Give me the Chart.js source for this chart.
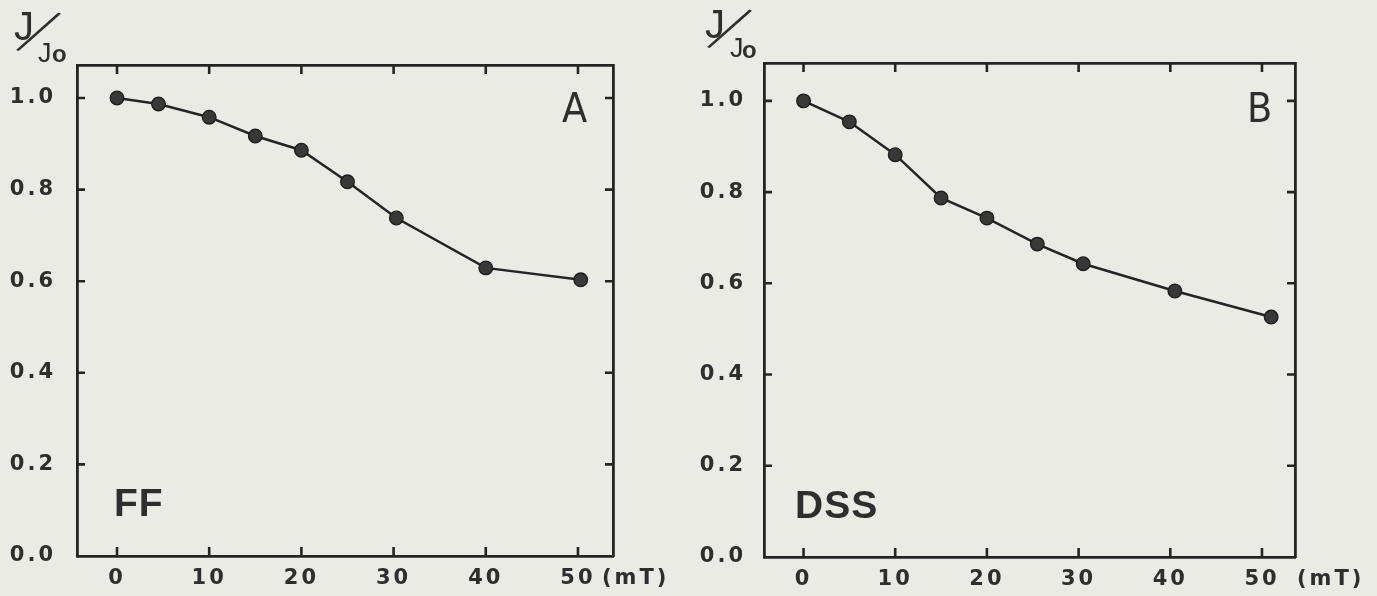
<!DOCTYPE html>
<html><head><meta charset="utf-8">
<script src="https://cdn.jsdelivr.net/npm/chart.js@4.4.1/dist/chart.umd.min.js"></script>
<style>
html,body{margin:0;padding:0;background:#ebebe6;width:1377px;height:596px;overflow:hidden;}
canvas{position:absolute;top:0;}
#cA{left:0;} #cB{left:688px;}
</style></head><body>
<canvas id="cA" width="688" height="596"></canvas>
<canvas id="cB" width="689" height="596"></canvas>
<script>
// ---- data ----
const fieldFF = [0, 4.5, 10, 15, 20, 25, 30.3, 40, 50.3];
const ratioFF = [1.000, 0.987, 0.958, 0.917, 0.886, 0.817, 0.738, 0.629, 0.603];
const fieldDSS = [0, 5, 10, 15, 20, 25.5, 30.5, 40.5, 51];
const ratioDSS = [1.000, 0.954, 0.882, 0.787, 0.743, 0.686, 0.643, 0.583, 0.526];
const xTicks = [0, 10, 20, 30, 40, 50];
const yTicks = [0.0, 0.2, 0.4, 0.6, 0.8, 1.0];
const panelLetters = ['A', 'B'];
const sampleLabels = ['FF', 'DSS'];
const xUnitLabel = '(mT)';
const yLabelParts = ['J', '/', 'J', 'o'];

// ---- styling ----
const INK = '#242424';
const TXT = '#2e2e2e';
const NUM_FAMILY = '"DejaVu Sans", sans-serif';
const NUM_SIZE = 21;
const NUM_SPACING = '3px';
const LINE_H = NUM_SIZE * 1.2;

const panels = [
  {canvas:'cA', field:fieldFF, ratio:ratioFF, xMin:-4.34, xMax:53.8, yMax:1.072,
   leftW:77, rightW:75, topH:65, bottomH:40, yPad:21, xPad:10, unitDx:24,
   letter:panelLetters[0], letterDx:-51, letterDy:57,
   sample:sampleLabels[0], sampleDx:37, sampleDy:-40,
   jl:{jx:14, jy:40, sx:38, sy:33, jx2:38, jy2:62, ox:52, oy:62}},
  {canvas:'cB', field:fieldDSS, ratio:ratioDSS, xMin:-4.31, xMax:53.6, yMax:1.083,
   leftW:76, rightW:82, topH:63, bottomH:39, yPad:18, xPad:10, unitDx:35,
   letter:panelLetters[1], letterDx:-48, letterDy:59,
   sample:sampleLabels[1], sampleDx:31, sampleDy:-39,
   jl:{jx:17, jy:38, sx:41, sy:30, jx2:42, jy2:57, ox:54, oy:58}}
];

function setTicks(vals){ return s => { s.ticks = vals.map(v => ({value: v})); }; }

function decor(p){
  return {
    id: 'decor',
    beforeDraw(chart){ chart.ctx.letterSpacing = NUM_SPACING; },
    afterDraw(chart){
      const ctx = chart.ctx, a = chart.chartArea;
      const sx = chart.scales.x, sy = chart.scales.y;
      ctx.save();
      // inward tick marks on all four sides
      ctx.strokeStyle = INK; ctx.lineWidth = 2.6;
      ctx.beginPath();
      xTicks.forEach(v => {
        const px = sx.getPixelForValue(v);
        ctx.moveTo(px, a.bottom); ctx.lineTo(px, a.bottom - 9);
        ctx.moveTo(px, a.top); ctx.lineTo(px, a.top + 9);
      });
      yTicks.forEach(v => {
        if (v === 0) return;
        const py = sy.getPixelForValue(v);
        ctx.moveTo(a.left, py); ctx.lineTo(a.left + 8, py);
        ctx.moveTo(a.right, py); ctx.lineTo(a.right - 8, py);
      });
      ctx.stroke();

      ctx.fillStyle = TXT;
      // unit after the last x tick label
      ctx.letterSpacing = NUM_SPACING;
      ctx.font = 'bold ' + NUM_SIZE + 'px ' + NUM_FAMILY;
      ctx.textAlign = 'left'; ctx.textBaseline = 'middle';
      ctx.fillText(xUnitLabel, sx.getPixelForValue(xTicks[xTicks.length-1]) + p.unitDx, a.bottom + p.xPad + LINE_H/2);

      // panel letter
      ctx.letterSpacing = '0px';
      ctx.textBaseline = 'alphabetic';
      ctx.font = '41px "Liberation Sans Narrow", "DejaVu Sans Condensed", sans-serif';
      ctx.fillText(p.letter, a.right + p.letterDx, a.top + p.letterDy);

      // sample name
      ctx.letterSpacing = '1px';
      ctx.font = 'bold 39px "Liberation Sans", sans-serif';
      ctx.fillText(p.sample, a.left + p.sampleDx, a.bottom + p.sampleDy);

      // y label J/Jo
      const j = p.jl;
      ctx.letterSpacing = '0px';
      ctx.font = '40px "Liberation Sans", sans-serif';
      ctx.fillText(yLabelParts[0], j.jx, j.jy);
      ctx.save();
      ctx.translate(j.sx, j.sy);
      ctx.rotate(26 * Math.PI / 180);
      ctx.font = '300 68px Lato, "Liberation Sans", sans-serif';
      ctx.textAlign = 'center'; ctx.textBaseline = 'middle';
      ctx.fillText(yLabelParts[1], 0, 0);
      ctx.restore();
      ctx.font = '27px "Liberation Sans", sans-serif';
      ctx.fillText(yLabelParts[2], j.jx2, j.jy2);
      ctx.font = 'bold 24px "Liberation Sans", sans-serif';
      ctx.fillText(yLabelParts[3], j.ox, j.oy);
      ctx.restore();
    }
  };
}

panels.forEach(p => {
  const numFont = {family: NUM_FAMILY, size: NUM_SIZE, weight: 'bold'};
  const border = {display: true, color: INK, width: 2.8};
  new Chart(document.getElementById(p.canvas), {
    type: 'line',
    data: {
      datasets: [{
        data: p.field.map((x, i) => ({x: x, y: p.ratio[i]})),
        borderColor: INK, borderWidth: 2.5, tension: 0,
        pointRadius: 6.8, pointBackgroundColor: '#383838',
        pointBorderColor: '#1c1c1c', pointBorderWidth: 1.3,
        clip: false
      }]
    },
    options: {
      responsive: false, animation: false, events: [],
      layout: {padding: 0},
      plugins: {legend: {display: false}, tooltip: {enabled: false}},
      scales: {
        x: {type: 'linear', position: 'bottom', min: p.xMin, max: p.xMax,
            afterBuildTicks: setTicks(xTicks),
            afterFit: s => { s.height = p.bottomH; },
            grid: {display: false, drawTicks: false}, border: border,
            ticks: {font: numFont, color: TXT, padding: p.xPad, maxRotation: 0, autoSkip: false,
                    callback: v => String(v)}},
        x2: {type: 'linear', position: 'top', min: p.xMin, max: p.xMax,
            afterBuildTicks: setTicks(xTicks),
            afterFit: s => { s.height = p.topH; },
            grid: {display: false, drawTicks: false}, border: border,
            ticks: {display: false}},
        y: {type: 'linear', position: 'left', min: 0, max: p.yMax,
            afterBuildTicks: setTicks(yTicks),
            afterFit: s => { s.width = p.leftW; },
            grid: {display: false, drawTicks: false}, border: border,
            ticks: {font: numFont, color: TXT, padding: p.yPad, autoSkip: false,
                    callback: v => Number(v).toFixed(1)}},
        y2: {type: 'linear', position: 'right', min: 0, max: p.yMax,
            afterBuildTicks: setTicks(yTicks),
            afterFit: s => { s.width = p.rightW; },
            grid: {display: false, drawTicks: false}, border: border,
            ticks: {display: false}}
      }
    },
    plugins: [decor(p)]
  });
});
</script>
</body></html>
